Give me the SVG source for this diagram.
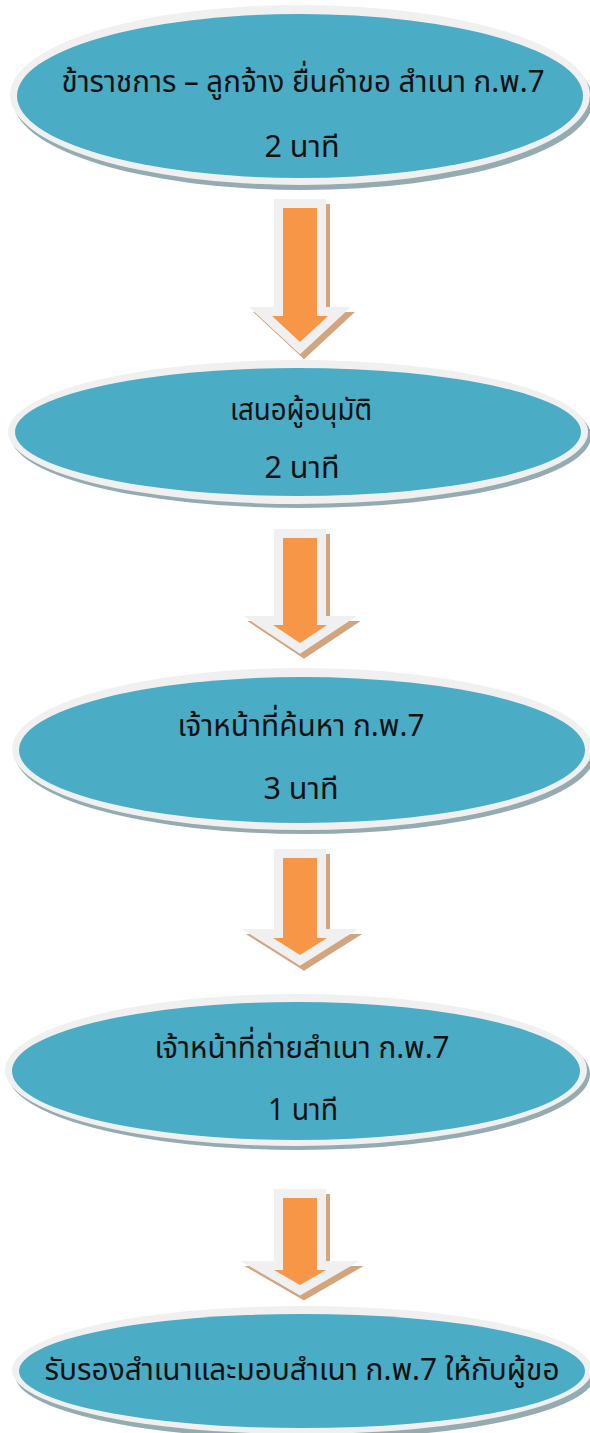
<svg xmlns="http://www.w3.org/2000/svg" width="590" height="1433" viewBox="0 0 590 1433">
<style>
.sh{fill:#94abb2}
.rim{fill:#f0f0f0}
.fill{fill:#4bacc6}
.t{font-family:"Noto Sans Thai","Noto Sans","DejaVu Sans",sans-serif;font-size:31px;fill:#111;text-anchor:middle}
.ash{fill:#d2a57f;stroke:#d2a57f;stroke-width:18;stroke-linejoin:miter}
.arim{fill:#f0f0f0;stroke:#f0f0f0;stroke-width:18;stroke-linejoin:miter}
.aor{fill:#f79646}
</style>
<rect width="590" height="1433" fill="#fff"/>
<g id="connectors">
  <g id="a1">
    <polygon class="ash" transform="translate(4,5)" points="283,208 317,208 317,316 328,316 300,342 272,316 283,316"/>
    <polygon class="arim" points="283,208 317,208 317,316 328,316 300,342 272,316 283,316"/>
    <polygon class="aor" points="283,208 317,208 317,316 328,316 300,342 272,316 283,316"/>
  </g>
  <g id="a2">
    <polygon class="ash" transform="translate(4,5)" points="283,538 317,538 317,625 327,625 300,643 273,625 283,625"/>
    <polygon class="arim" points="283,538 317,538 317,625 327,625 300,643 273,625 283,625"/>
    <polygon class="aor" points="283,538 317,538 317,625 327,625 300,643 273,625 283,625"/>
  </g>
  <g id="a3">
    <polygon class="ash" transform="translate(4,5)" points="283,858 317,858 317,938 327,938 300,955 273,938 283,938"/>
    <polygon class="arim" points="283,858 317,858 317,938 327,938 300,955 273,938 283,938"/>
    <polygon class="aor" points="283,858 317,858 317,938 327,938 300,955 273,938 283,938"/>
  </g>
  <g id="a4">
    <polygon class="ash" transform="translate(4,5)" points="283,1198 317,1198 317,1270 326,1270 300,1285 274,1270 283,1270"/>
    <polygon class="arim" points="283,1198 317,1198 317,1270 326,1270 300,1285 274,1270 283,1270"/>
    <polygon class="aor" points="283,1198 317,1198 317,1270 326,1270 300,1285 274,1270 283,1270"/>
  </g>
</g>
<g id="n1">
  <ellipse class="sh" cx="303" cy="100" rx="290" ry="90"/>
  <ellipse class="rim" cx="300" cy="95" rx="290" ry="90"/>
  <ellipse class="fill" cx="300" cy="96" rx="283" ry="82"/>
  <text class="t" x="303" y="92" textLength="483" lengthAdjust="spacingAndGlyphs">ข้าราชการ – ลูกจ้าง ยื่นคำขอ สำเนา ก.พ.7</text>
  <text class="t" x="302" y="157" textLength="75" lengthAdjust="spacingAndGlyphs">2 นาที</text>
</g>
<g id="n2">
  <ellipse class="sh" cx="301" cy="436" rx="290" ry="72"/>
  <ellipse class="rim" cx="298" cy="432" rx="290" ry="72"/>
  <ellipse class="fill" cx="298" cy="432" rx="283" ry="64"/>
  <text class="t" x="301" y="420" textLength="142" lengthAdjust="spacingAndGlyphs">เสนอผู้อนุมัติ</text>
  <text class="t" x="302" y="478" textLength="75" lengthAdjust="spacingAndGlyphs">2 นาที</text>
</g>
<g id="n3">
  <ellipse class="sh" cx="305" cy="754" rx="290" ry="80"/>
  <ellipse class="rim" cx="302" cy="749" rx="290" ry="81"/>
  <ellipse class="fill" cx="302" cy="750" rx="283" ry="73"/>
  <text class="t" x="301" y="736" textLength="247" lengthAdjust="spacingAndGlyphs">เจ้าหน้าที่ค้นหา ก.พ.7</text>
  <text class="t" x="301" y="799" textLength="75" lengthAdjust="spacingAndGlyphs">3 นาที</text>
</g>
<g id="n4">
  <ellipse class="sh" cx="299" cy="1074" rx="291" ry="76"/>
  <ellipse class="rim" cx="296" cy="1070" rx="291" ry="76"/>
  <ellipse class="fill" cx="296" cy="1071" rx="284" ry="69"/>
  <text class="t" x="302" y="1058" textLength="295" lengthAdjust="spacingAndGlyphs">เจ้าหน้าที่ถ่ายสำเนา ก.พ.7</text>
  <text class="t" x="303" y="1120" textLength="70" lengthAdjust="spacingAndGlyphs">1 นาที</text>
</g>
<g id="n5">
  <ellipse class="sh" cx="305" cy="1375" rx="290" ry="64"/>
  <ellipse class="rim" cx="302" cy="1370" rx="290" ry="64"/>
  <ellipse class="fill" cx="302" cy="1371" rx="283" ry="57"/>
  <text class="t" x="302" y="1380" textLength="515" lengthAdjust="spacingAndGlyphs">รับรองสำเนาและมอบสำเนา ก.พ.7  ให้กับผู้ขอ</text>
</g>
</svg>
